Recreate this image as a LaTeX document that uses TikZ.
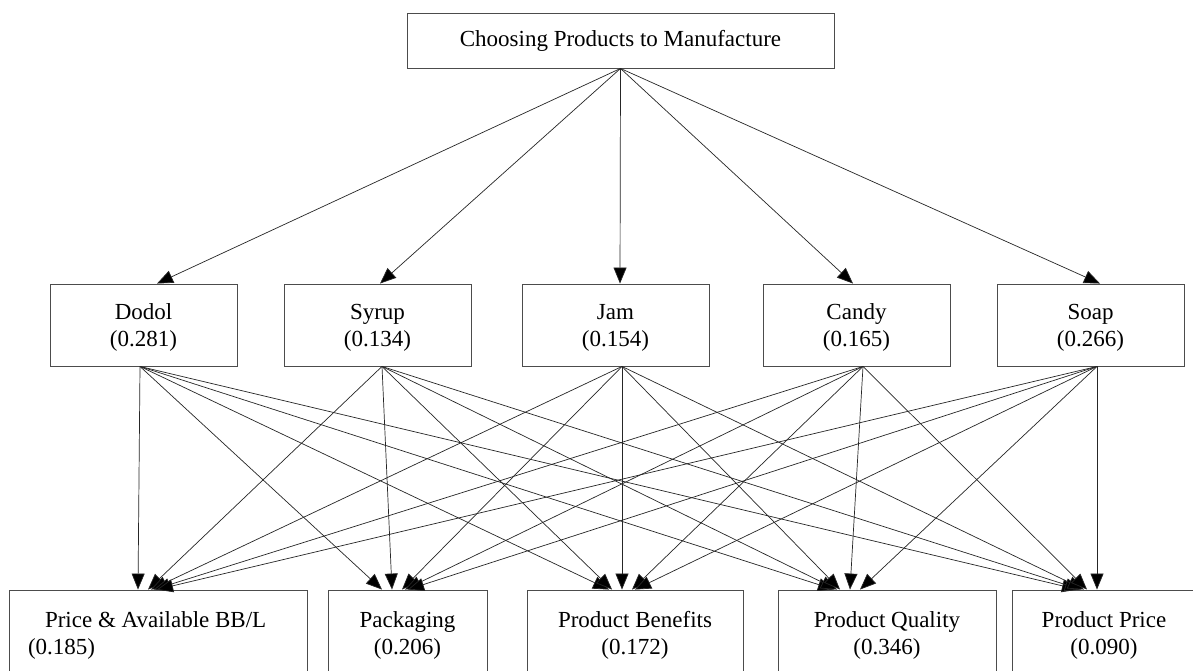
\documentclass[tikz,border=0pt]{standalone}
\usepackage{fontspec}
\setmainfont{Liberation Serif}
\usetikzlibrary{arrows.meta}
\begin{document}
\begin{tikzpicture}[x=1pt,y=-1pt,
  box/.style={draw=black!70, line width=0.9pt, rectangle, inner sep=0pt, align=center,
    font=\fontsize{23}{27}\selectfont},
  edge/.style={draw=black!85, line width=0.7pt,
    -{Triangle[length=16pt,width=13pt,fill=black]}}]
\clip (0,0) rectangle (1193,670);
\fill[white] (0,0) rectangle (1193,670);
% top
\node[box, minimum width=427, minimum height=55] (top) at (620.5,40.5) {Choosing Products to Manufacture};
% middle
\foreach \n/\x/\t/\v in {m1/143.5/Dodol/0.281, m2/377.5/Syrup/0.134, m3/615.5/Jam/0.154, m4/856.5/Candy/0.165, m5/1090.5/Soap/0.266}
  \node[box, minimum width=187, minimum height=82] (\n) at (\x,325) {\rule{0pt}{21.5pt}\t\\(\v)};
% bottom
\node[box, minimum width=298, minimum height=90] (b1) at (158,635)
  {\makebox[260pt][l]{\hspace*{17pt}Price \& Available BB/L}\\\makebox[260pt][l]{(0.185)}};
\node[box, minimum width=159, minimum height=90] (b2) at (407.5,635) {Packaging\\(0.206)};
\node[box, minimum width=216, minimum height=90] (b3) at (635,635) {Product Benefits\\(0.172)};
\node[box, minimum width=218, minimum height=90] (b4) at (887,635) {Product Quality\\(0.346)};
\node[box, minimum width=184, minimum height=90] (b5) at (1104,635) {Product Price\\(0.090)};
% top edges
\foreach \i/\s in {1/13.5, 2/2.5, 3/4.5, 4/-3.5, 5/9.5}
  \draw[edge] (top.south) -- ([xshift=\s]m\i.north);
% bottom edges
\foreach \i/\sx in {1/-3.5, 2/4.5, 3/6.5, 4/6.5, 5/6.5}
  \foreach \j/\tx in {1/-20, 2/-15.5, 3/-13, 4/-37, 5/-7} {
    \pgfmathsetmacro{\kk}{\i-\j}
    \pgfmathsetmacro{\off}{\kk==0 ? 0 : sign(\kk)*(7+3*abs(\kk))}
    \pgfmathsetmacro{\tgt}{\tx+\off}
    \draw[edge] ([xshift=\sx]m\i.south) -- ([xshift=\tgt]b\j.north);
  }
\end{tikzpicture}
\end{document}
